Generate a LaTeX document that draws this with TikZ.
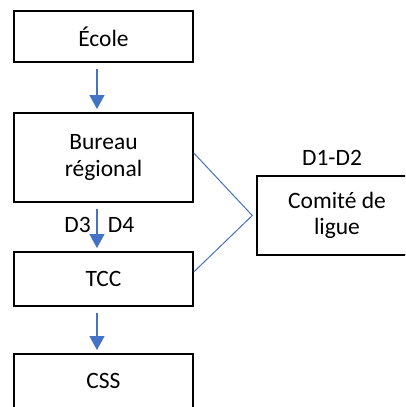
\documentclass[tikz,border=0pt]{standalone}
\usepackage{fontspec}
\setmainfont{Carlito}
\usetikzlibrary{arrows.meta}
\definecolor{officeblue}{HTML}{4472C4}
\begin{document}
\begin{tikzpicture}[x=0.75pt,y=-0.75pt,
  box/.style={draw=black,line width=1.1pt,rectangle,inner sep=0pt,minimum width=134.25pt,align=center,font=\fontsize{17.6}{21}\selectfont},
  lbl/.style={inner sep=0pt,font=\fontsize{17.6}{21}\selectfont},
  arr/.style={draw=officeblue,line width=0.8pt,-{Triangle[width=11.25pt,length=10.5pt]},shorten <=4.5pt,shorten >=2.4pt},
  link/.style={draw=officeblue,line width=0.75pt}]
\useasboundingbox (0,0) rectangle (405,407);
\clip (0,0) rectangle (405,407);
\node[box,minimum height=38.25pt] (ecole) at (103.5,36.5) {École};
\node[box,minimum height=66.75pt] (bureau) at (103.5,157.5) {\raisebox{3pt}{\begin{tabular}{@{}c@{}}Bureau\\[-1pt]régional\end{tabular}}};
\node[box,minimum height=40.5pt] (tcc) at (103.5,279) {TCC};
\node[box,minimum height=40.5pt] (css) at (103.5,381) {CSS};
\node[box,minimum width=120pt,minimum height=59.25pt] (comite) at (337,215.5) {Comité de\\[-1pt]ligue};
\node[lbl] (d12) at (332,158) {D1-D2};
\node[lbl] (d3) at (77.5,225) {D3};
\node[lbl] (d4) at (121,225) {D4};
\coordinate (apex) at ([xshift=-3pt]comite.west);
\draw[arr] ([xshift=-4.9pt]ecole.south) -- ([xshift=-4.9pt]bureau.north);
\draw[arr] ([xshift=-4.9pt]bureau.south) -- ([xshift=-4.9pt]tcc.north);
\draw[arr] ([xshift=-4.9pt]tcc.south) -- ([xshift=-4.9pt]css.north);
\draw[link] ([yshift=3.4pt]bureau.east) -- (apex) -- ([yshift=5.25pt]tcc.east);
\end{tikzpicture}
\end{document}
